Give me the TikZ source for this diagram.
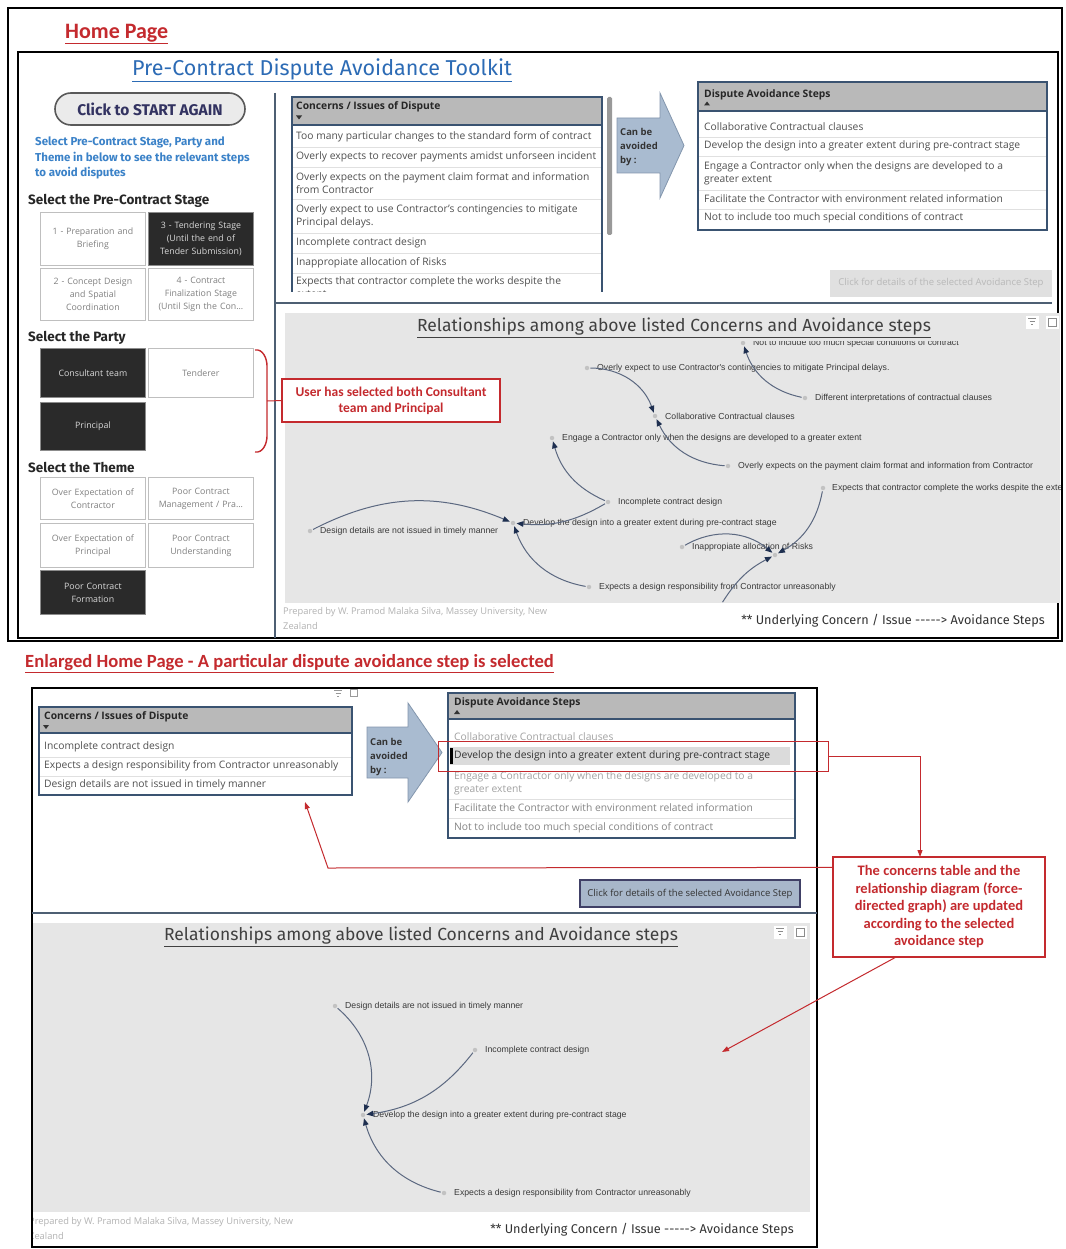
\documentclass[tikz,border=0pt]{standalone}
\usepackage{fontspec}
\setmainfont{Open Sans}
\newfontfamily\calfont{Carlito}
\newfontfamily\arfont{Liberation Sans}
\newfontfamily\playfont{Fira Sans}
\usetikzlibrary{arrows.meta}

\definecolor{redc}{HTML}{C42A2E}
\definecolor{bluet}{HTML}{2C6BB5}
\definecolor{bluei}{HTML}{3B82C8}
\definecolor{darkbtn}{HTML}{2A2A2A}
\definecolor{tblborder}{HTML}{3A5371}
\definecolor{hdrfill}{HTML}{B9B9B9}
\definecolor{rowtext}{HTML}{505050}
\definecolor{fadetext}{HTML}{A2A2A2}
\definecolor{midtext}{HTML}{858585}
\definecolor{arrowfill}{HTML}{A9BBD0}
\definecolor{arrowline}{HTML}{8396AD}
\definecolor{graphbg}{HTML}{E6E6E6}
\definecolor{edgec}{HTML}{5B6880}
\definecolor{tipc}{HTML}{1E2F50}
\definecolor{dotc}{HTML}{C2C2C2}
\definecolor{lbl}{HTML}{3A3A3A}
\definecolor{sepc}{HTML}{4D5F73}
\definecolor{btnblue}{HTML}{A8B7CA}

\newcommand{\fs}[2]{\fontsize{#1}{#2}\selectfont}

\begin{document}
\begin{tikzpicture}[x=1pt,y=-1pt,
  btnw/.style={draw=black!25, line width=0.8pt, fill=white, text=black!50,
    font=\fs{8.8}{13}, align=center, anchor=north west, minimum width=105pt,
    inner sep=0pt, text width=102pt},
  btnd/.style={btnw, fill=darkbtn, draw=black!45, text=white!85!black},
  heading/.style={font=\playfont\bfseries\fs{13.5}{15}, text=black!85, anchor=west, inner sep=0pt},
  rowtxt/.style={font=\fs{10.3}{13}, text=rowtext, anchor=west, align=left, inner sep=0pt},
  fadetxt/.style={rowtxt, text=fadetext},
  midtxt/.style={rowtxt, text=midtext},
  hdrtxt/.style={font=\bfseries\fs{10.3}{11}, text=black!85, anchor=west, inner sep=0pt},
  rowsep/.style={draw=black!12, line width=0.6pt},
  tbl/.style={draw=tblborder, line width=1.6pt},
  gdot/.style={circle, fill=dotc, minimum size=4.5pt, inner sep=0pt},
  glabel/.style={font=\arfont\fs{8.7}{9}, text=lbl, anchor=west, inner sep=0pt},
  gedge/.style={draw=edgec, line width=1pt, -{Triangle[length=7pt,width=5.5pt,color=tipc]},
    shorten >=1pt, shorten <=1pt},
  redln/.style={draw=redc, line width=1pt},
  redarr/.style={redln, -{Triangle[length=7pt,width=5pt]}},
  callout/.style={draw=redc, line width=1.2pt, fill=white, text=redc,
    font=\calfont\bfseries\fs{13.5}{16}, align=center, inner sep=3pt},
  sectitle/.style={font=\calfont\bfseries, text=redc, anchor=west, inner sep=0pt},
  gtitle/.style={font=\playfont\fs{17.5}{19}, text=black!75, inner sep=0pt},
  legend/.style={font=\playfont\fs{12.7}{14}, text=black!80, inner sep=0pt},
  foot/.style={font=\fs{9.3}{15}, text=black!30, anchor=north west, align=left, inner sep=0pt},
  blockarrow/.style={fill=arrowfill, draw=arrowline, line width=0.8pt},
  arrtxt/.style={font=\bfseries\fs{9.5}{14}, text=black!80, anchor=west, align=left, inner sep=0pt},
  icon/.style={fill=white, minimum size=13pt, inner sep=0pt},
  btntxt/.style={font=\fs{9.5}{10}, inner sep=0pt},
]
\useasboundingbox (0,0) rectangle (1065,1249);
\fill[white] (0,0) rectangle (1065,1249);

%% ================= Home page =================
\draw[black, line width=2pt] (8,8) rectangle (1062,641);
\node[sectitle, font=\calfont\bfseries\fs{22}{24}] (hp) at (65,34) {\underline{Home Page}};
\draw[black, line width=1.5pt] (18,52) rectangle (1058,638);

\node[font=\playfont\fs{21.5}{24}, text=bluet, inner sep=0pt] (toolkit) at (322,70)
  {\underline{Pre-Contract Dispute Avoidance Toolkit}};

% left panel
\node[draw=black!65, line width=1.6pt, fill=black!8, rounded corners=16pt,
  minimum width=190pt, minimum height=32pt, font=\playfont\bfseries\fs{15.5}{17},
  text=black!70!blue!60!gray] (restart) at (150,109) {Click to START AGAIN};
\node[font=\playfont\bfseries\fs{11.5}{15.5}, text=bluei, anchor=north west, align=left, inner sep=0pt]
  (instr) at (35,137) {Select Pre-Contract Stage, Party and\\Theme in below to see the relevant steps\\to avoid disputes};

\node[heading] (hstage) at (28,201) {Select the Pre-Contract Stage};
\node[btnw, minimum height=53pt] (s1) at (40,212) {1 - Preparation and\\Briefing};
\node[btnd, minimum height=53pt] (s3) at (148,212) {3 - Tendering Stage\\(Until the end of\\Tender Submission)};
\node[btnw, minimum height=52pt] (s2) at (40,268) {2 - Concept Design\\and Spatial\\Coordination};
\node[btnw, minimum height=52pt] (s4) at (148,268) {4 - Contract\\Finalization Stage\\(Until Sign the Con...};

\node[heading] (hparty) at (28,338) {Select the Party};
\node[btnd, minimum height=49pt] (p1) at (40,348) {Consultant team};
\node[btnw, minimum height=49pt] (p2) at (148,348) {Tenderer};
\node[btnd, minimum height=48pt] (p3) at (40,402) {Principal};

\node[heading] (htheme) at (28,467) {Select the Theme};
\node[btnw, minimum height=42pt] (t1) at (40,477) {Over Expectation of\\Contractor};
\node[btnw, minimum height=42pt] (t2) at (148,477) {Poor Contract\\Management / Pra...};
\node[btnw, minimum height=44pt] (t3) at (40,523) {Over Expectation of\\Principal};
\node[btnw, minimum height=44pt] (t4) at (148,523) {Poor Contract\\Understanding};
\node[btnd, minimum height=44pt] (t5) at (40,570) {Poor Contract\\Formation};

% separators
\draw[sepc, line width=1.3pt] (275,93) -- (275,638);
\draw[sepc, line width=1.5pt] (275,303) -- (1052,303);

% concerns table
\draw[tbl, fill=hdrfill] (292,97) rectangle (602,125);
\node[hdrtxt] (hdrC) at (296,107) {Concerns / Issues of Dispute};
\fill[black!80] (296,115.5) -- (302,115.5) -- (299,119.5) -- cycle;
\draw[tbl] (292,125) -- (292,292);
\draw[tbl] (602,125) -- (602,292);
\foreach \yy in {147,167,199,233,253,273} \draw[rowsep] (293,\yy) -- (601,\yy);
\node[rowtxt] (c1) at (296,137) {Too many particular changes to the standard form of contract};
\node[rowtxt] (c2) at (296,157) {Overly expects to recover payments amidst unforseen incident};
\node[rowtxt] (c3) at (296,183.5) {Overly expects on the payment claim format and information\\from Contractor};
\node[rowtxt] (c4) at (296,216.5) {Overly expect to use Contractor's contingencies to mitigate\\Principal delays.};
\node[rowtxt] (c5) at (296,243) {Incomplete contract design};
\node[rowtxt] (c6) at (296,263) {Inappropiate allocation of Risks};
\begin{scope}
  \clip (293,273) rectangle (601,291);
  \node[rowtxt, anchor=north west] (c7) at (296,276) {Expects that contractor complete the works despite the\\extent};
\end{scope}
\fill[black!40, rounded corners=1.5pt] (607,97) rectangle (612,235);

% block arrow
\draw[blockarrow] (617,118) -- (660,118) -- (660,93) -- (684,145.5) -- (660,198) -- (660,173) -- (617,173) -- cycle;
\node[arrtxt] (cab) at (620,147) {Can be\\avoided\\by :};

% avoidance steps table
\draw[tbl, fill=white] (698,82) rectangle (1047,230);
\draw[tbl, fill=hdrfill] (698,82) rectangle (1047,111);
\node[hdrtxt] (hdrA) at (704,95) {Dispute Avoidance Steps};
\fill[black!80] (704,105.5) -- (710,105.5) -- (707,101.5) -- cycle;
\foreach \yy in {137,156,190,209} \draw[rowsep] (699,\yy) -- (1046,\yy);
\node[rowtxt] (a1) at (704,127) {Collaborative Contractual clauses};
\node[rowtxt] (a2) at (704,146) {Develop the design into a greater extent during pre-contract stage};
\node[rowtxt] (a3) at (704,173.5) {Engage a Contractor only when the designs are developed to a\\greater extent};
\node[rowtxt] (a4) at (704,199) {Facilitate the Contractor with environment related information};
\node[rowtxt] (a5) at (704,218) {Not to include too much special conditions of contract};

\node[fill=black!12, minimum width=222pt, minimum height=27pt, btntxt,
  text=black!28] (det1) at (941,283.5) {Click for details of the selected Avoidance Step};

% relationship graph
\fill[graphbg] (285,313) rectangle (1060,603);
\node[gtitle] (gt1) at (674,328) {\underline{Relationships among above listed Concerns and Avoidance steps}};
\node[icon] (fi1) at (1032,322) {};
\node[icon] (ex1) at (1052,322) {};
\draw[black!45, line width=0.6pt] (1028,318) -- (1036,318) (1029.5,321) -- (1034.5,321) (1031,324) -- (1033,324);
\draw[black!45, line width=0.6pt] (1048,318) rectangle (1056,326);

\begin{scope}
  \clip (285,313) rectangle (1060,603);
  \begin{scope}
    \clip (285,341.5) rectangle (1060,603);
    \node[gdot] (nNot) at (743,343) {};
    \node[glabel] (tNot) at (753,343) {Not to include too much special conditions of contract};
  \end{scope}
  \node[gdot] (nOver) at (587,368) {};
  \node[gdot] (nDiff) at (805,398) {};
  \node[gdot] (nColl) at (655,416) {};
  \node[gdot] (nEng) at (552,438) {};
  \node[gdot] (nPay) at (728,466) {};
  \node[gdot] (nExpW) at (823,488) {};
  \node[gdot] (nInc) at (608,502) {};
  \node[gdot] (nDev) at (513,523) {};
  \node[gdot] (nDes) at (310,531) {};
  \node[gdot] (nInap) at (682,547) {};
  \node[gdot] (nRisk) at (775,555) {};
  \node[gdot] (nExpD) at (589,587) {};
  \coordinate (lowEnd) at (722,603);

  \node[glabel] (tOver) at (597,368) {Overly expect to use Contractor's contingencies to mitigate Principal delays.};
  \node[glabel] (tDiff) at (815,398) {Different interpretations of contractual clauses};
  \node[glabel] (tColl) at (665,416) {Collaborative Contractual clauses};
  \node[glabel] (tEng) at (562,438) {Engage a Contractor only when the designs are developed to a greater extent};
  \node[glabel] (tPay) at (738,466) {Overly expects on the payment claim format and information from Contractor};
  \node[glabel] (tExpW) at (832,488) {Expects that contractor complete the works despite the extent};
  \node[glabel] (tInc) at (618,502) {Incomplete contract design};
  \node[glabel] (tDev) at (523,523) {Develop the design into a greater extent during pre-contract stage};
  \node[glabel] (tDes) at (320,531) {Design details are not issued in timely manner};
  \node[glabel] (tInap) at (692,547) {Inappropiate allocation of Risks};
  \node[glabel] (tExpD) at (599,587) {Expects a design responsibility from Contractor unreasonably};

  \draw[gedge] (nOver) to[bend left=35] (nColl);
  \draw[gedge] (nPay) to[bend left=30] (nColl);
  \draw[gedge] (nDiff) to[bend left=30] (nNot);
  \draw[gedge] (nInc) to[bend left=25] (nEng);
  \draw[gedge] (nInc) to[bend left=18] (nDev);
  \draw[gedge] (nDes) to[bend left=25] (nDev);
  \draw[gedge] (nExpD) to[bend left=30] (nDev);
  \draw[gedge] (nInap) to[bend left=35] (nRisk);
  \draw[gedge] (nExpW) to[bend left=25] (nRisk);
  \draw[gedge] (lowEnd) to[bend left=15] (nRisk);
\end{scope}

% red bracket and note about the chosen parties
\node[callout, minimum width=218pt, minimum height=43pt] (note1) at (391,400.5)
  {User has selected both Consultant\\team and Principal};
\draw[redln, line width=1.4pt] (255,350) to[out=10,in=90] (267,366) -- (267,436) to[out=-90,in=-10] (255,452);
\draw[redln] (267,401) -- (note1.west);

\node[foot] (prep1) at (283,607) {Prepared by W. Pramod Malaka Silva, Massey University, New\\Zealand};
\node[legend] (leg1) at (893,621) {** Underlying Concern / Issue -{}-{}-{}-{}-> Avoidance Steps};

%% ================= Enlarged home page =================
\node[sectitle, font=\calfont\bfseries\fs{18.6}{20}] (ehp) at (25,664)
  {\underline{Enlarged Home Page - A particular dispute avoidance step is selected}};
\draw[black, line width=2pt] (32,688) rectangle (817,1247);

\draw[black!40, line width=0.6pt] (334,690) -- (342,690) (335.5,693) -- (340.5,693) (337,696) -- (339,696);
\draw[black!40, line width=0.6pt] (350,689) rectangle (357,696);

% concerns table (filtered)
\draw[tbl, fill=white] (39,707) rectangle (352,795);
\draw[tbl, fill=hdrfill] (39,707) rectangle (352,733);
\node[hdrtxt] (hdrC2) at (44,716.5) {Concerns / Issues of Dispute};
\fill[black!80] (43,725) -- (49,725) -- (46,729) -- cycle;
\foreach \yy in {757,776} \draw[rowsep] (40,\yy) -- (351,\yy);
\node[rowtxt] (d1) at (44,747) {Incomplete contract design};
\node[rowtxt] (d2) at (44,766) {Expects a design responsibility from Contractor unreasonably};
\node[rowtxt] (d3) at (44,785) {Design details are not issued in timely manner};

% block arrow
\draw[blockarrow] (367,727) -- (408,727) -- (408,703) -- (442,752.5) -- (408,802) -- (408,778) -- (367,778) -- cycle;
\node[arrtxt] (cab2) at (370,757) {Can be\\avoided\\by :};

% avoidance steps (one selected)
\draw[tbl, fill=white] (448,693) rectangle (795,838);
\draw[tbl, fill=hdrfill] (448,693) rectangle (795,719);
\node[hdrtxt] (hdrA2) at (454,703) {Dispute Avoidance Steps};
\fill[black!80] (454,714) -- (460,714) -- (457,710) -- cycle;
\fill[black!14] (450,747) rectangle (790,765);
\fill[black] (450,748) rectangle (452.5,764);
\foreach \yy in {799,818} \draw[rowsep] (449,\yy) -- (794,\yy);
\node[fadetxt] (b1) at (454,737) {Collaborative Contractual clauses};
\node[rowtxt, text=black!80] (b2) at (454,756) {Develop the design into a greater extent during pre-contract stage};
\node[fadetxt] (b3) at (454,783) {Engage a Contractor only when the designs are developed to a\\greater extent};
\node[midtxt] (b4) at (454,808) {Facilitate the Contractor with environment related information};
\node[midtxt] (b5) at (454,828) {Not to include too much special conditions of contract};

\node[draw=redc, line width=1pt, minimum width=390pt, minimum height=30pt, inner sep=0pt] (selbox) at (633,756) {};

\node[fill=btnblue, draw=black!70!blue!50!gray, line width=1.2pt, minimum width=220pt, minimum height=27pt,
  btntxt, text=black!80] (det2) at (690,893.5) {Click for details of the selected Avoidance Step};

\draw[sepc, line width=1.5pt] (32,913) -- (817,913);

% filtered graph
\fill[graphbg] (33,923) rectangle (810,1212);
\node[gtitle] (gt2) at (421,937) {\underline{Relationships among above listed Concerns and Avoidance steps}};
\node[icon] (fi2) at (780,932) {};
\node[icon] (ex2) at (800,932) {};
\draw[black!45, line width=0.6pt] (776,928) -- (784,928) (777.5,931) -- (782.5,931) (779,934) -- (781,934);
\draw[black!45, line width=0.6pt] (796,928) rectangle (804,936);

\node[gdot] (mDes) at (335,1006) {};
\node[gdot] (mInc) at (475,1050) {};
\node[gdot] (mDev) at (363,1115) {};
\node[gdot] (mExp) at (444,1193) {};
\node[glabel] (uDes) at (345,1006) {Design details are not issued in timely manner};
\node[glabel] (uInc) at (485,1050) {Incomplete contract design};
\node[glabel] (uDev) at (373,1115) {Develop the design into a greater extent during pre-contract stage};
\node[glabel] (uExp) at (454,1193) {Expects a design responsibility from Contractor unreasonably};
\draw[gedge] (mDes) to[bend left=35] (mDev);
\draw[gedge] (mInc) to[bend left=22] (mDev);
\draw[gedge] (mExp) to[bend left=30] (mDev);

\begin{scope}
  \clip (33,1213) rectangle (816,1246);
  \node[foot] (prep2) at (29,1217) {Prepared by W. Pramod Malaka Silva, Massey University, New\\Zealand};
\end{scope}
\node[legend] (leg2) at (642,1230) {** Underlying Concern / Issue -{}-{}-{}-{}-> Avoidance Steps};

% explanatory callout
\node[callout, font=\calfont\bfseries\fs{14.5}{17.5}, minimum width=212pt, minimum height=100pt] (note2)
  at (939,907) {The concerns table and the\\relationship diagram (force-\\directed graph) are updated\\according to the selected\\avoidance step};
\draw[redarr] (selbox.east) -- (920,756) -- (920,857);
\draw[redarr] ([yshift=-11pt]note2.north west) -- (328,868) -- (305,802);
\draw[redarr] ([xshift=-44pt]note2.south) -- (722,1052);
\end{tikzpicture}
\end{document}
